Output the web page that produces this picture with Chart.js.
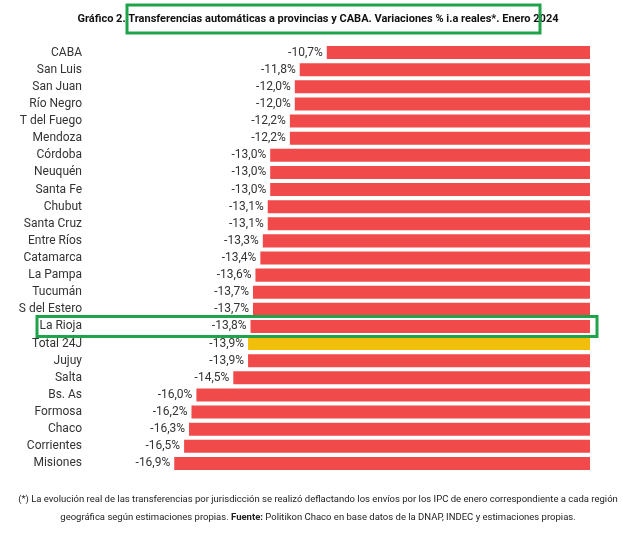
<!DOCTYPE html>
<html>
<head>
<meta charset="utf-8">
<script src="https://cdn.jsdelivr.net/npm/chart.js@4"></script>
<style>
  html, body { margin: 0; padding: 0; background: #fff; }
  #wrap { position: relative; width: 623px; height: 547px; }
</style>
</head>
<body>
<div id="wrap"><canvas id="chart" width="623" height="547"></canvas></div>
<script>
const provincias = ['CABA', 'San Luis', 'San Juan', 'Río Negro', 'T del Fuego', 'Mendoza', 'Córdoba', 'Neuquén',
  'Santa Fe', 'Chubut', 'Santa Cruz', 'Entre Ríos', 'Catamarca', 'La Pampa', 'Tucumán', 'S del Estero',
  'La Rioja', 'Total 24J', 'Jujuy', 'Salta', 'Bs. As', 'Formosa', 'Chaco', 'Corrientes', 'Misiones'];
const variaciones = [-10.7, -11.8, -12.0, -12.0, -12.2, -12.2, -13.0, -13.0, -13.0, -13.1, -13.1, -13.3, -13.4,
  -13.6, -13.7, -13.7, -13.8, -13.9, -13.9, -14.5, -16.0, -16.2, -16.3, -16.5, -16.9];
const titulo = 'Gráfico 2. Transferencias automáticas a provincias y CABA. Variaciones % i.a reales*. Enero 2024';
const nota1 = '(*) La evolución real de las transferencias por jurisdicción se realizó deflactando los envíos por los IPC de enero correspondiente a cada región';
const nota2a = 'geográfica según estimaciones propias. ';
const nota2b = 'Fuente:';
const nota2c = ' Politikon Chaco en base datos de la DNAP, INDEC y estimaciones propias.';

const FONT = 'Roboto, "Liberation Sans", Arial, sans-serif';

// etiquetas de valor y recuadros verdes
const extras = {
  id: 'extras',
  afterDatasetsDraw(chart) {
    const ctx = chart.ctx;
    const meta = chart.getDatasetMeta(0);
    ctx.save();
    ctx.font = '12px ' + FONT;
    ctx.fillStyle = '#333';
    ctx.textAlign = 'right';
    ctx.textBaseline = 'middle';
    meta.data.forEach((bar, i) => {
      const txt = variaciones[i].toFixed(1).replace('.', ',') + '%';
      ctx.fillText(txt, bar.x - 4, bar.y);
    });
    // título
    ctx.font = 'bold 11px ' + FONT;
    ctx.fillStyle = '#111';
    ctx.textAlign = 'center';
    ctx.fillText(titulo, 318, 19);
    // notas
    ctx.font = '9.5px ' + FONT;
    ctx.fillStyle = '#222';
    ctx.fillText(nota1, 318, 500);
    const wa = ctx.measureText(nota2a).width;
    const wc = ctx.measureText(nota2c).width;
    ctx.font = 'bold 9.5px ' + FONT;
    const wb = ctx.measureText(nota2b).width;
    let x = 318 - (wa + wb + wc) / 2;
    ctx.textAlign = 'left';
    ctx.font = '9.5px ' + FONT;
    ctx.fillText(nota2a, x, 518);
    ctx.font = 'bold 9.5px ' + FONT;
    ctx.fillText(nota2b, x + wa, 518);
    ctx.font = '9.5px ' + FONT;
    ctx.fillText(nota2c, x + wa + wb, 518);
    // recuadros verdes
    ctx.strokeStyle = '#1fa34a';
    ctx.lineWidth = 3;
    ctx.strokeRect(127, 5, 413, 28);
    const rioja = meta.data[provincias.indexOf('La Rioja')];
    ctx.strokeRect(37, rioja.y - 10, 560, 20);
    ctx.restore();
  }
};

new Chart(document.getElementById('chart'), {
  type: 'bar',
  data: {
    labels: provincias,
    datasets: [{
      data: variaciones,
      backgroundColor: provincias.map(p => p === 'Total 24J' ? '#f2be0c' : '#f04a4a'),
      borderWidth: 0,
      barPercentage: 0.76,
      categoryPercentage: 1
    }]
  },
  options: {
    indexAxis: 'y',
    responsive: false,
    animation: false,
    layout: { padding: { top: 44, bottom: 75, right: 33, left: 0 } },
    plugins: { legend: { display: false }, tooltip: { enabled: false } },
    scales: {
      x: { min: -20, max: 0, display: false },
      y: {
        grid: { display: false },
        border: { display: false },
        ticks: { color: '#333', font: { size: 12, family: FONT }, padding: 8, autoSkip: false },
        afterFit(scale) { scale.width = 98; }
      }
    }
  },
  plugins: [extras]
});
</script>
</body>
</html>
